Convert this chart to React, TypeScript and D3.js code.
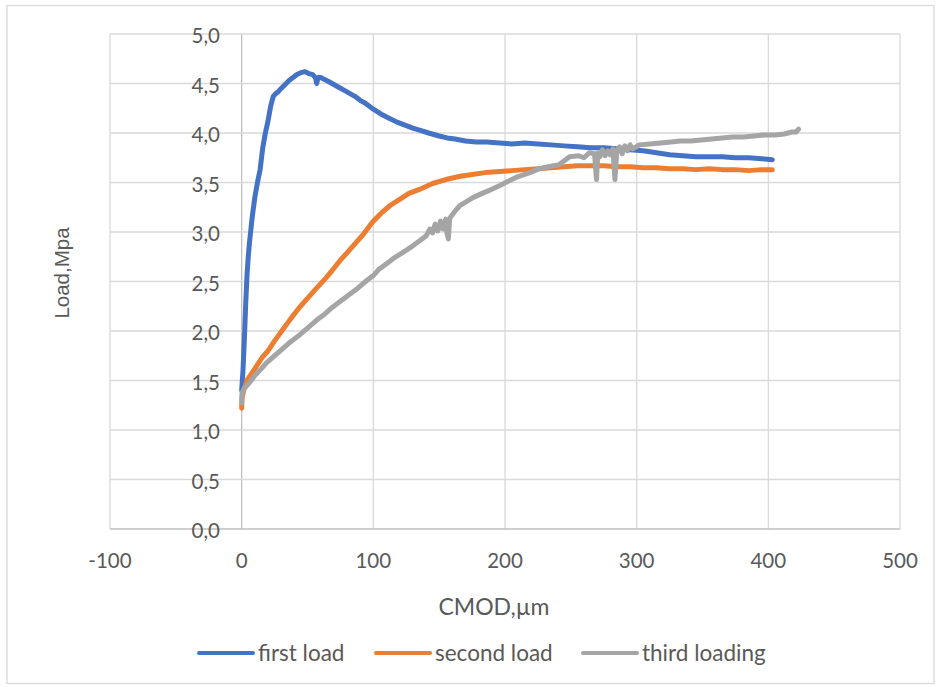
import React from "react";
import * as d3 from "d3";

const xTicks = [-100, 0, 100, 200, 300, 400, 500];
const yTicks = [0, 0.5, 1, 1.5, 2, 2.5, 3, 3.5, 4, 4.5, 5];
const seriesNames = ["first load", "second load", "third loading"];
const seriesColors = ["#4472C4", "#ED7D31", "#A5A5A5"];

const firstLoad: [number, number][] = [
  [0, 1.4], [1, 1.6], [2, 1.9], [3, 2.25], [4, 2.55], [5, 2.75], [6, 2.9], [8, 3.15], [10, 3.35],
  [12, 3.5], [14, 3.63], [16, 3.85], [18, 4.0], [20, 4.12], [22, 4.27], [24, 4.37], [26, 4.4],
  [28, 4.42], [30, 4.45], [33, 4.49], [36, 4.53], [39, 4.56], [42, 4.59], [45, 4.61], [48, 4.62],
  [51, 4.6], [54, 4.59], [56, 4.56], [57, 4.5], [58, 4.56], [60, 4.56], [63, 4.54], [66, 4.52],
  [70, 4.49], [74, 4.46], [78, 4.43], [82, 4.4], [86, 4.37], [90, 4.33], [94, 4.3], [97, 4.27],
  [100, 4.24], [106, 4.19], [112, 4.15], [118, 4.11], [124, 4.08], [130, 4.05], [135, 4.03],
  [142, 4.0], [150, 3.97], [156, 3.95], [162, 3.94], [170, 3.92], [178, 3.91], [186, 3.91],
  [196, 3.9], [205, 3.89], [215, 3.9], [225, 3.89], [235, 3.88], [245, 3.87], [255, 3.86],
  [265, 3.85], [275, 3.85], [285, 3.84], [295, 3.83], [305, 3.82], [315, 3.8], [325, 3.78],
  [335, 3.77], [345, 3.76], [355, 3.76], [365, 3.76], [375, 3.75], [385, 3.75], [395, 3.74], [403, 3.73],
];

const secondLoad: [number, number][] = [
  [0, 1.22], [0.3, 1.33], [2, 1.42], [4, 1.5], [8, 1.58], [12, 1.66], [16, 1.74], [20, 1.8],
  [25, 1.9], [31, 2.01], [37, 2.12], [44, 2.24], [50, 2.33], [56, 2.42], [63, 2.52], [68, 2.6],
  [74, 2.7], [80, 2.79], [86, 2.88], [92, 2.97], [96, 3.04], [100, 3.11], [106, 3.19], [113, 3.27],
  [120, 3.33], [127, 3.39], [135, 3.43], [145, 3.49], [155, 3.53], [165, 3.56], [175, 3.58],
  [185, 3.6], [196, 3.61], [205, 3.62], [215, 3.63], [225, 3.64], [235, 3.65], [245, 3.66],
  [255, 3.67], [265, 3.67], [275, 3.67], [285, 3.66], [295, 3.66], [305, 3.65], [315, 3.65],
  [325, 3.64], [335, 3.64], [345, 3.63], [355, 3.64], [365, 3.63], [375, 3.63], [385, 3.62],
  [395, 3.63], [403, 3.63],
];

const thirdLoading: [number, number][] = [
  [0, 1.27], [0.3, 1.38], [2, 1.42], [6, 1.48], [10, 1.55], [15, 1.62], [19, 1.68], [25, 1.75],
  [31, 1.82], [37, 1.89], [44, 1.96], [50, 2.03], [57, 2.11], [63, 2.17], [69, 2.24], [75, 2.3],
  [82, 2.37], [88, 2.43], [95, 2.51], [100, 2.56], [104, 2.62], [110, 2.68], [116, 2.74],
  [122, 2.79], [130, 2.86], [136, 2.92], [140, 2.96], [143, 3.03], [145, 2.99], [147, 3.08],
  [149, 3.01], [151, 3.11], [153, 3.03], [155, 3.13], [156, 2.98], [157, 2.93], [158, 3.14],
  [162, 3.21], [166, 3.27], [171, 3.31], [176, 3.35], [181, 3.38], [188, 3.42], [196, 3.47],
  [202, 3.51], [210, 3.56], [219, 3.6], [226, 3.64], [233, 3.66], [241, 3.68], [245, 3.72],
  [249, 3.76], [256, 3.77], [260, 3.75], [264, 3.8], [268, 3.79], [269.5, 3.53], [270.5, 3.8],
  [272, 3.76], [274, 3.83], [276, 3.77], [278, 3.82], [280, 3.78], [282, 3.84], [283.5, 3.53],
  [285, 3.83], [287, 3.86], [289, 3.79], [291, 3.87], [293, 3.82], [295, 3.88], [297, 3.84],
  [302, 3.88], [310, 3.89], [318, 3.9], [326, 3.91], [333, 3.92], [341, 3.92], [349, 3.93],
  [357, 3.94], [365, 3.95], [373, 3.96], [381, 3.96], [389, 3.97], [397, 3.98], [405, 3.98],
  [412, 3.99], [418, 4.01], [421, 4.01], [423, 4.04],
];

const allSeries = [firstLoad, secondLoad, thirdLoading];

export default function App() {
  const W = 937;
  const H = 687;
  const x = d3.scaleLinear().domain([-100, 500]).range([110, 900]);
  const y = d3.scaleLinear().domain([0, 5]).range([529, 34]);
  const line = d3
    .line<[number, number]>()
    .x((d) => x(d[0]))
    .y((d) => y(d[1]))
    .curve(d3.curveLinear);
  const tickFont = "Lato, 'Open Sans', sans-serif";
  const textColor = "#595959";
  const grid = "#d9d9d9";
  const axisC = "#bfbfbf";

  const legendX = [199, 376, 583];

  return (
    <svg
      width={W}
      height={H}
      style={{ position: "absolute", left: 0, top: 0, background: "#fff" }}
    >
      <rect x={7} y={5.5} width={927} height={678} fill="#fff" stroke={grid} strokeWidth={1.3} />
      {xTicks.map((t) => (
        <line key={"gx" + t} x1={x(t)} x2={x(t)} y1={y(5)} y2={y(0)} stroke={t === 0 ? axisC : grid} strokeWidth={1.3} />
      ))}
      {yTicks.map((t) => (
        <line key={"gy" + t} x1={x(-100)} x2={x(500)} y1={y(t)} y2={y(t)} stroke={t === 0 ? axisC : grid} strokeWidth={1.3} />
      ))}
      {yTicks.map((t) => (
        <text
          key={"ty" + t}
          x={220}
          y={y(t) + 1}
          textAnchor="end"
          dominantBaseline="central"
          fontFamily={tickFont}
          fontSize={20.5}
          fill={textColor}
        >
          {d3.format(".1f")(t).replace(".", ",")}
        </text>
      ))}
      {xTicks.map((t) => (
        <text
          key={"tx" + t}
          x={x(t)}
          y={568}
          textAnchor="middle"
          fontFamily={tickFont}
          fontSize={20.5}
          fill={textColor}
        >
          {t}
        </text>
      ))}
      {allSeries.map((s, i) => (
        <path
          key={"s" + i}
          d={line(s) || ""}
          fill="none"
          stroke={seriesColors[i]}
          strokeWidth={5}
          strokeLinejoin="round"
          strokeLinecap="round"
        />
      ))}
      <text x={494} y={615} textAnchor="middle" fontFamily={tickFont} fontSize={23} fill={textColor}>
        CMOD,µm
      </text>
      <text
        transform={`translate(69,273) rotate(-90)`}
        textAnchor="middle"
        fontFamily="'Liberation Sans', Arial, sans-serif"
        fontSize={20.5}
        fill={textColor}
      >
        Load,Mpa
      </text>
      {seriesNames.map((n, i) => (
        <g key={"lg" + i}>
          <line
            x1={legendX[i]}
            x2={legendX[i] + 54}
            y1={653}
            y2={653}
            stroke={seriesColors[i]}
            strokeWidth={4}
            strokeLinecap="round"
          />
          <text x={legendX[i] + 59} y={661} fontFamily={tickFont} fontSize={22.5} fill={textColor}>
            {n}
          </text>
        </g>
      ))}
    </svg>
  );
}
